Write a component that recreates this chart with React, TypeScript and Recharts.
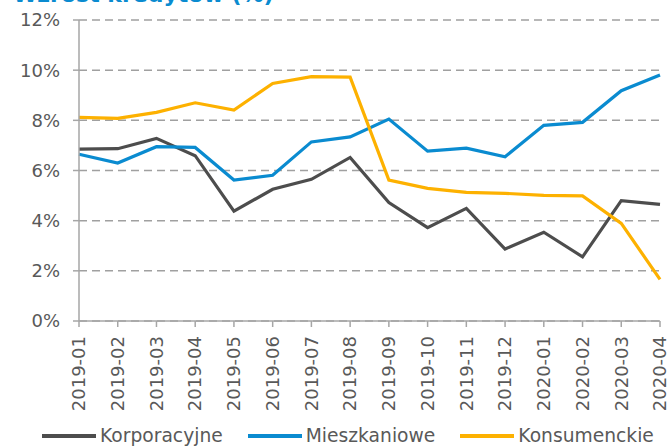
import React from 'react';
import { LineChart, Line, XAxis, YAxis, CartesianGrid, Legend } from 'recharts';

const months = ['2019-01','2019-02','2019-03','2019-04','2019-05','2019-06','2019-07','2019-08','2019-09','2019-10','2019-11','2019-12','2020-01','2020-02','2020-03','2020-04'];
const korporacyjne = [6.85, 6.87, 7.28, 6.59, 4.38, 5.25, 5.65, 6.52, 4.72, 3.72, 4.49, 2.87, 3.54, 2.56, 4.80, 4.65];
const mieszkaniowe = [6.65, 6.30, 6.95, 6.92, 5.62, 5.81, 7.14, 7.34, 8.05, 6.77, 6.89, 6.55, 7.80, 7.92, 9.18, 9.81];
const konsumenckie = [8.12, 8.08, 8.32, 8.70, 8.41, 9.47, 9.74, 9.72, 5.62, 5.29, 5.13, 5.09, 5.01, 4.99, 3.89, 1.66];
const yTicks = [0, 2, 4, 6, 8, 10, 12];
const title = 'Wzrost kredytów (%)';

const series = [
  { key: 'korporacyjne', name: 'Korporacyjne', color: '#4d4d4d' },
  { key: 'mieszkaniowe', name: 'Mieszkaniowe', color: '#0a8bd0' },
  { key: 'konsumenckie', name: 'Konsumenckie', color: '#fdb100' },
];

const data = months.map((m, i) => ({
  month: m,
  korporacyjne: korporacyjne[i],
  mieszkaniowe: mieszkaniowe[i],
  konsumenckie: konsumenckie[i],
}));

const FONT = '"DejaVu Sans", Verdana, sans-serif';
const TXT = '#595959';

const XTick = (props: any) => {
  const { x, y, payload } = props;
  const ty = y + 7;
  return (
    <text x={x} y={ty} transform={`rotate(-90 ${x} ${ty})`} textAnchor="end" dy="0.35em" fill={TXT} fontSize={18} fontFamily={FONT}>
      {payload.value}
    </text>
  );
};

const LegendContent = () => (
  <div style={{ height: 24, display: 'flex', alignItems: 'center', paddingLeft: 42, fontFamily: FONT, fontSize: 18.7, color: TXT }}>
    {series.map((s, i) => (
      <div key={s.key} style={{ display: 'flex', alignItems: 'center', marginRight: i < series.length - 1 ? 25 : 0 }}>
        <svg width={54} height={8} style={{ marginRight: 4 }}>
          <line x1={0} y1={4} x2={54} y2={4} stroke={s.color} strokeWidth={4} />
        </svg>
        <span style={{ lineHeight: '24px', whiteSpace: 'nowrap' }}>{s.name}</span>
      </div>
    ))}
  </div>
);

export default function App() {
  return (
    <div style={{ position: 'absolute', left: 0, top: 0, width: 670, height: 448, background: '#fff', overflow: 'hidden' }}>
      <svg width={670} height={30} style={{ position: 'absolute', left: 0, top: 0 }}>
        <text x={13} y={2} fill="#0a8bd0" fontWeight="bold" fontSize={22} fontFamily={FONT}>{title}</text>
      </svg>
      <LineChart width={670} height={448} data={data} margin={{ top: 20, right: 10, left: 0, bottom: 0 }}>
        <CartesianGrid vertical={false} stroke="#a0a0a0" strokeWidth={1.5} strokeDasharray="8 5" />
        <XAxis
          dataKey="month"
          interval={0}
          height={103}
          tick={<XTick />}
          tickSize={6}
          axisLine={{ stroke: '#a6a6a6', strokeWidth: 1.5 }}
          tickLine={{ stroke: '#a6a6a6', strokeWidth: 1.5 }}
        />
        <YAxis
          width={79}
          domain={[0, 12]}
          ticks={yTicks}
          interval={0}
          tickFormatter={(v: number) => `${v}%`}
          tickSize={6}
          tickMargin={13}
          tick={{ fill: TXT, fontSize: 18, fontFamily: FONT }}
          axisLine={{ stroke: '#a6a6a6', strokeWidth: 1.5 }}
          tickLine={{ stroke: '#a6a6a6', strokeWidth: 1.5 }}
        />
        <Legend verticalAlign="bottom" content={<LegendContent />} />
        {series.map((s) => (
          <Line key={s.key} type="linear" dataKey={s.key} name={s.name} stroke={s.color} strokeWidth={3.2} dot={false} isAnimationActive={false} />
        ))}
      </LineChart>
    </div>
  );
}
